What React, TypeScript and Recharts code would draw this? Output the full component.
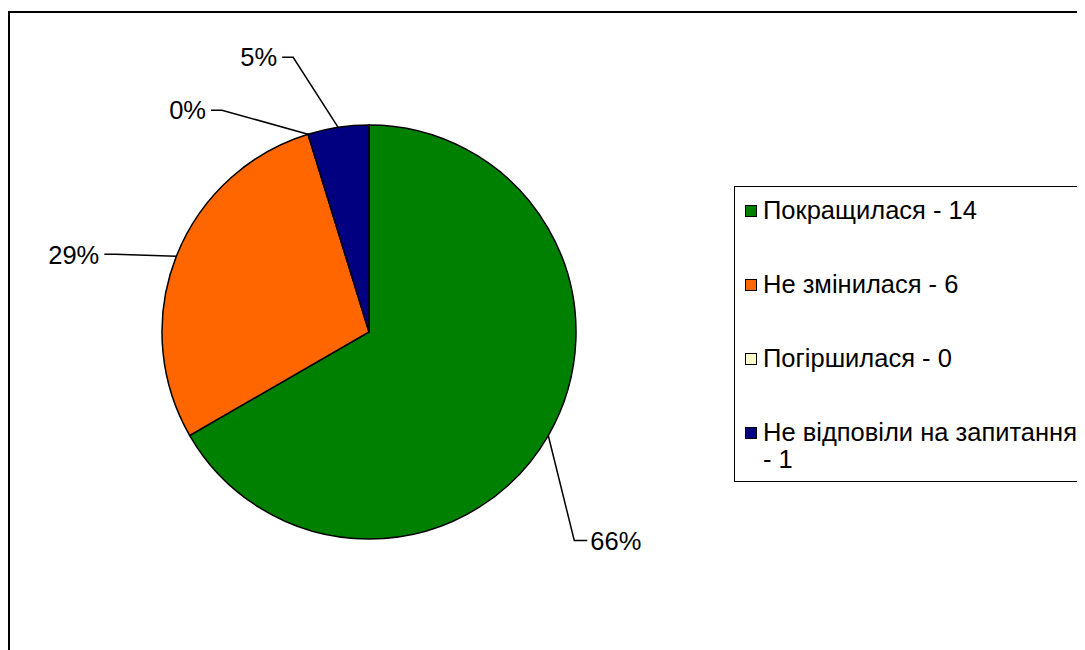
import { Legend, Pie, PieChart } from 'recharts';

const categories = ['Покращилася - 14', 'Не змінилася - 6', 'Погіршилася - 0', 'Не відповіли на запитання - 1'];
const counts = [14, 6, 0, 1];
const pctLabels = ['66%', '29%', '0%', '5%'];
const colors = ['#008000', '#FF6600', '#FFFFCC', '#000080'];

// elbow of each leader line, relative to the slice's outer edge point
const labelOffsets: [number, number][] = [
  [26, 105],
  [-61, -2],
  [-86, -24],
  [-45, -70],
];

const data = categories.map((name, i) => ({ name, value: counts[i], fill: colors[i] }));

const RAD = Math.PI / 180;
const FONT = 'Liberation Sans, Arial, sans-serif';

const renderLabel = (props: any) => {
  const { cx, cy, midAngle, outerRadius, index } = props;
  const sx = cx + outerRadius * Math.cos(-midAngle * RAD);
  const sy = cy + outerRadius * Math.sin(-midAngle * RAD);
  const [dx, dy] = labelOffsets[index];
  const ex = sx + dx;
  const ey = sy + dy;
  const right = dx > 0;
  const tx = right ? ex + 13 : ex - 11;
  return (
    <g key={`lbl-${index}`}>
      <polyline points={`${sx},${sy} ${ex},${ey} ${tx},${ey}`} fill="none" stroke="#000" strokeWidth={1.5} />
      <text
        x={right ? tx + 3 : tx - 5}
        y={ey}
        dy="0.36em"
        textAnchor={right ? 'start' : 'end'}
        fontSize={25.5}
        fontFamily={FONT}
        fill="#000"
      >
        {pctLabels[index]}
      </text>
    </g>
  );
};

const LegendBox = (props: any) => {
  const payload = [...(props.payload || [])].sort(
    (a: any, b: any) => categories.indexOf(a.value) - categories.indexOf(b.value),
  );
  return (
    <div
      style={{
        border: '1.5px solid #000',
        width: 380,
        height: 296,
        boxSizing: 'border-box',
        paddingTop: 10,
        paddingLeft: 10,
        fontFamily: FONT,
        fontSize: 25.5,
        lineHeight: '27px',
        color: '#000',
        background: '#fff',
      }}
    >
      {payload.map((p: any, i: number) => (
        <div key={i} style={{ display: 'flex', alignItems: 'flex-start', marginBottom: 47 }}>
          <span
            style={{
              width: 12,
              height: 12,
              marginTop: 8,
              marginRight: 6,
              background: p.color,
              border: '1px solid #000',
              boxSizing: 'border-box',
              flexShrink: 0,
            }}
          />
          <span style={{ width: 322 }}>{p.value}</span>
        </div>
      ))}
    </div>
  );
};

export default function App() {
  return (
    <div style={{ position: 'relative', width: 1077, height: 642, overflow: 'hidden', background: '#fff' }}>
      <div
        style={{
          position: 'absolute',
          left: 0,
          top: 3,
          width: 1200,
          height: 800,
          border: '2px solid #000',
          boxSizing: 'border-box',
        }}
      />
      <PieChart
        width={1077}
        height={642}
        margin={{ top: 0, right: 0, bottom: 0, left: 0 }}
        style={{ position: 'absolute', left: 0, top: 0 }}
      >
        <Pie
          data={data}
          dataKey="value"
          nameKey="name"
          cx={361}
          cy={324}
          outerRadius={207}
          startAngle={90}
          endAngle={-270}
          stroke="#000"
          strokeWidth={1.5}
          label={renderLabel}
          labelLine={false}
          isAnimationActive={false}
        />
        <Legend
          layout="vertical"
          content={<LegendBox />}
          wrapperStyle={{ left: 726, top: 178, width: 380 }}
        />
      </PieChart>
    </div>
  );
}
